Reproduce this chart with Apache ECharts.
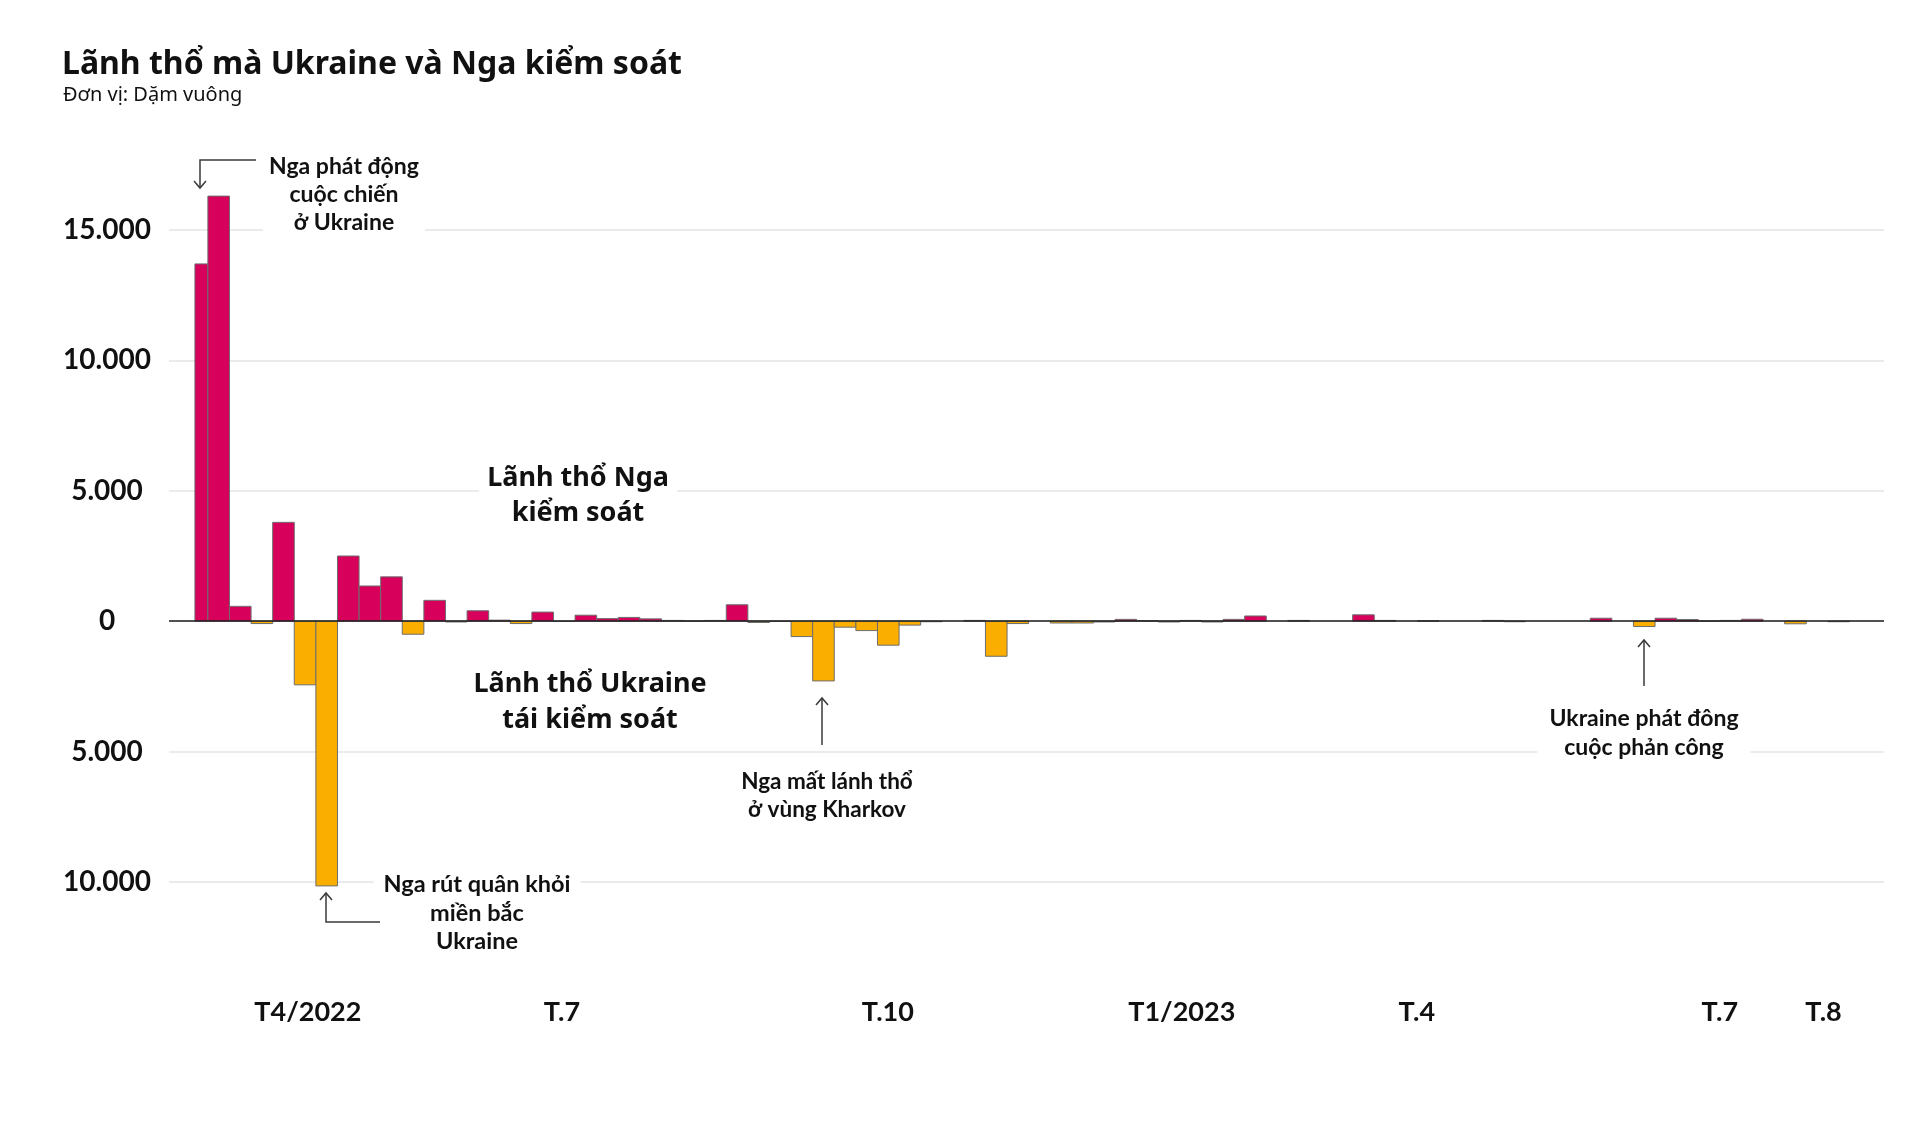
<!DOCTYPE html>
<html>
<head>
<meta charset="utf-8">
<script src="https://cdn.jsdelivr.net/npm/echarts@6/dist/echarts.min.js"></script>
<style>
html,body{margin:0;padding:0;background:#fff;}
#chart{width:1920px;height:1128px;}
</style>
</head>
<body>
<div id="chart"></div>
<script>
// ---- DATA ----
// Weekly change in controlled territory (square miles); + = Russia gained, - = Ukraine regained.
// Bar i (i>=1) covers week [i, i+1]; bar 0 is the partial first week starting 24/2/2022.
const weekValues = [
  13700, 16300, 570, -90, 3790, -2440, -10150, 2500, 1350, 1700,
  -500, 800, -30, 400, 40, -90, 350, -10, 230, 100,
  145, 90, 30, 10, 30, 630, -50, -10, -590, -2290,
  -230, -360, -920, -150, -20, 0, 30, -1345, -90, 0,
  -70, -70, -30, 70, 20, -30, 30, -30, 70, 200,
  0, 30, 0, 0, 245, 30, 0, 20, 0, 0,
  30, -20, 0, 0, 0, 115, 0, -205, 115, 65,
  10, 30, 75, 0, -100, 0, -20, 0, 0
];
const firstBarStart = 0.4;
const xTickLabels = ['T4/2022', 'T.7', 'T.10', 'T1/2023', 'T.4', 'T.7', 'T.8'];
const xTickPos = [5.63, 17.39, 32.48, 46.09, 56.97, 71.0, 75.8];

// ---- STYLE ----
const PINK = '#D7005A';
const YELLOW = '#F9AE00';
const LATO = 'Lato, "Noto Sans", sans-serif';
const NOTO = '"Noto Sans", "Open Sans", sans-serif';
const TXT = '#111111';

const barData = weekValues.map((v, i) => [i === 0 ? firstBarStart : i, i + 1, v]);

function fmtThousands(v) {
  const a = Math.abs(v);
  return a.toString().replace(/\B(?=(\d{3})+(?!\d))/g, '.');
}

const chart = echarts.init(document.getElementById('chart'), null, {renderer: 'canvas'});

function annText(text, x, y, size, lh, bg, pad, fam) {
  return {
    type: 'text', z: 20,
    style: {
      text: text, x: x, y: y,
      align: 'center', verticalAlign: 'middle',
      fill: TXT,
      font: 'bold ' + size + 'px ' + (fam || LATO),
      lineHeight: lh,
      backgroundColor: bg ? '#ffffff' : 'transparent',
      padding: pad || 0
    }
  };
}
function arrowLine(points) {
  return {type: 'polyline', z: 20, shape: {points: points}, style: {stroke: '#3a3a3a', lineWidth: 1.5, fill: null}};
}

const option = {
  backgroundColor: '#ffffff',
  animation: false,
  title: [
    {text: 'Lãnh thổ mà Ukraine và Nga kiểm soát', left: 57, top: 43,
     textStyle: {fontFamily: NOTO, fontSize: 32, fontWeight: 'bold', color: TXT, lineHeight: 34}},
    {text: 'Đơn vị: Dặm vuông', left: 58, top: 79,
     textStyle: {fontFamily: NOTO, fontSize: 20, fontWeight: 'normal', color: TXT, lineHeight: 22}}
  ],
  grid: {left: 169, right: 36, top: 230, bottom: 246, containLabel: false, outerBoundsMode: 'none'},
  xAxis: {
    type: 'value', min: -0.8, max: 78.6, z: 5,
    axisLine: {show: false, onZero: false},
    axisTick: {show: false},
    splitLine: {show: false},
    axisLabel: {
      customValues: xTickPos,
      margin: 117,
      fontFamily: LATO, fontSize: 27, fontWeight: 'bold', color: TXT,
      formatter: function (v) {
        let best = -1, d = 1e9;
        xTickPos.forEach((p, i) => { if (Math.abs(p - v) < d) { d = Math.abs(p - v); best = i; } });
        return d < 0.05 ? xTickLabels[best] : '';
      }
    }
  },
  yAxis: {
    type: 'value', min: -10000, max: 15000, interval: 5000,
    axisLine: {show: false}, axisTick: {show: false},
    splitLine: {show: true, lineStyle: {color: '#e4e4e4', width: 1.5}},
    axisLabel: {
      margin: 62, align: 'center', padding: [0, 0, 5, 0],
      fontFamily: LATO, fontSize: 28, fontWeight: 'bold', color: TXT,
      formatter: function (v) { return fmtThousands(v); }
    }
  },
  series: [{
    type: 'custom',
    z: 2,
    encode: {x: [0, 1], y: 2},
    data: barData,
    renderItem: function (params, api) {
      const s = api.value(0), e = api.value(1), v = api.value(2);
      if (v === 0) return null;
      const a = api.coord([s, v]);
      const b = api.coord([e, 0]);
      return {
        type: 'rect',
        shape: {x: a[0], y: Math.min(a[1], b[1]), width: b[0] - a[0], height: Math.abs(b[1] - a[1])},
        style: {fill: v > 0 ? PINK : YELLOW, stroke: '#6e6e6e', lineWidth: 1}
      };
    },
    markLine: {
      silent: true, symbol: 'none', animation: false,
      label: {show: false},
      lineStyle: {color: '#1e1e1e', width: 1.5, type: 'solid'},
      emphasis: {disabled: true},
      data: [{yAxis: 0}]
    }
  }],
  graphic: [
    annText('Nga phát động\ncuộc chiến\nở Ukraine', 344, 195, 23, 28, true, [2, 6, 2, 6]),
    arrowLine([[256, 160], [200, 160], [200, 188]]),
    arrowLine([[194, 181], [200, 188], [206, 181]]),

    annText('Lãnh thổ Nga\nkiểm soát', 578, 496, 27, 35, true, [4, 8, 4, 8], NOTO),
    annText('Lãnh thổ Ukraine\ntái kiểm soát', 590, 702, 27, 36, true, [4, 8, 4, 8], NOTO),

    annText('Nga rút quân khỏi\nmiền bắc\nUkraine', 477, 913, 23.5, 28.5, true, [2, 10, 2, 10]),
    arrowLine([[380, 922], [326, 922], [326, 893]]),
    arrowLine([[320, 900], [326, 893], [332, 900]]),

    annText('Nga mất lánh thổ\nở vùng Kharkov', 827, 796, 22.5, 28, false),
    arrowLine([[822, 745], [822, 698]]),
    arrowLine([[816, 705], [822, 698], [828, 705]]),

    annText('Ukraine phát đông\ncuộc phản công', 1644, 733, 23, 29, true, [2, 12, 2, 12]),
    arrowLine([[1644, 686], [1644, 640]]),
    arrowLine([[1638, 647], [1644, 640], [1650, 647]])
  ]
};
chart.setOption(option);
</script>
</body>
</html>
